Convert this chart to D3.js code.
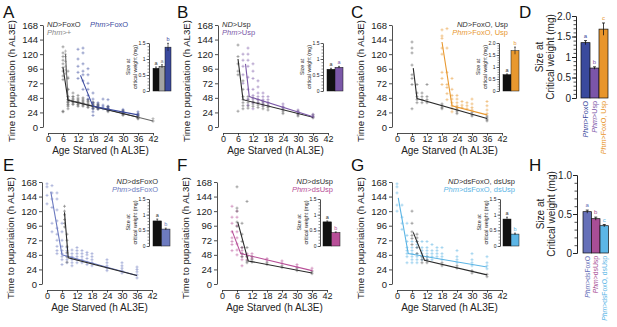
<!DOCTYPE html>
<html><head><meta charset="utf-8">
<script src="https://cdn.jsdelivr.net/npm/d3@7"></script>
<style>body{margin:0;background:#fff}svg{display:block}</style>
</head><body><svg id="fig"></svg><script>
// ---- shared ticks
const ageTicks=[0,6,12,18,24,30,36,42];
const timeTicks=[0,24,48,72,96,120,144,168];

// ---- A
const aNdAges=[6,8,10,12,14,16,18,20,24,30,36];
const aNdTimes=[[132,122,116,110,104,98,92,84,78,26,25],[92,80,62,50,45,42,40,37,34,30],[56,50,46,42,40,37],[52,46,42,40,37,34],[48,44,40,38,35],[45,42,38,35,32],[41,38,35,33,30],[38,35,32,30],[34,31,28,26],[27,24,22,20],[21,18,16,14]];
const aPlusAges=[7,8,10,12,14,16,18,20,24,30,36,42];
const aPlusTimes=[[125,120,116,108,100,94,88],[82,62,50,45,40,36],[50,46,42,38],[48,44,40,36],[46,42,38,34],[44,40,36,33],[40,37,34,31],[37,34,31,29],[33,30,27,25],[26,23,21,19],[20,17,15,13],[14,11,9]];
const aFoxAges=[12,14,16,18,20,22,24,30,36];
const aFoxTimes=[[128,112,100,90,80],[130,122,104,92,86,76,62],[96,86,72,62,52,46],[56,46,40,35,30,25,19],[40,36,33,30],[46,36,33,30],[45,34,31,28],[29,26,23],[25,22,19]];
const aNdLine=[[6,98],[8,44],[36,16]];
const aPlusLine=[[7,120],[8,45],[42,10]];
const aFoxLine=[[13,85],[18,34],[36,20]];
const aInsetVals=[0.71,0.77,1.37], aInsetErr=[0.04,0.05,0.12], aInsetLetters=['a','a','b'];

// ---- B
const bNdAges=[6,8,10,12,14,16,18,24,30,36];
const bNdTimes=[[135,116,104,92,86,26],[76,62,50,45,40,35,30],[50,45,40,35,31],[48,42,38,34],[45,40,36,32],[42,38,34,30],[40,35,32,28],[32,28,25,22],[26,22,20,18],[20,17,15]];
const bUspAges=[8,10,12,14,16,18,24,30,36];
const bUspTimes=[[120,110,100,86,72],[130,120,110,100,82,62,46,36],[104,92,80,62,52,46,40,30],[76,66,56,50,45,40],[56,50,45,40,36],[50,45,40,36],[38,34,30],[28,25,22],[21,18,16]];
const bNdLine=[[6,112],[8,45],[36,16]];
const bUspLine=[[9,104],[10.5,50],[36,17]];
const bInsetVals=[0.68,0.74], bInsetErr=[0.03,0.03], bInsetLetters=['a','a'];

// ---- C
const cNdAges=[6,8,10,12,18,24,30,36];
const cNdTimes=[[140,130,122,102,86,80,70,30],[70,56,50,45,40],[56,50,45,40],[70,50,45,40],[38,35,32,30],[32,28,25,22],[24,20,18],[18,15,12,10]];
const cFuAges=[18,20,22,24,26,28,30,36];
const cFuTimes=[[160,150,146,130,120,90,80,70],[162,130,90,70,65,55,45],[80,62,52,46,40,35,30,25],[52,46,40,35,30],[42,36,32],[40,35,30],[46,38,32,28],[42,35,28,22]];
const cNdLine=[[6.5,97],[8,47],[36,14]];
const cFuLine=[[18,140],[22,35],[36,20]];
const cInsetVals=[0.68,1.68], cInsetErr=[0.03,0.15], cInsetLetters=['a','b'];

// ---- D
const dCats=[['Phm','>FoxO'],['Phm','>Usp'],['Phm','>FoxO, Usp']];
const dVals=[1.35,0.73,1.68], dErr=[0.05,0.03,0.15], dLetters=['a','b','c'];

// ---- E
const eNdAges=[7,8];
const eNdTimes=[[128,120,114,106,100,94],[82,72,62,52,45,36]];
const eDsAges=[0,2,4,6,8,10,12,14,16,18,24,30,36];
const eDsTimes=[[165,160,146,132],[162,150,140,126,100,86],[150,140,122,104,92,82,72,62,55,50],[100,86,72,62,55,50,45,40,32],[60,55,50,45,40,35],[56,50,45,40,35,30],[60,55,50,45,40,35],[55,50,45,40,35],[52,48,42,36,32],[50,45,40,35,30],[40,35,30,26,22],[35,30,26,22,18],[28,24,20,15,10]];
const eDsLine=[[1.5,152],[6,48],[36,14]];
const eNdLine=[[7,118],[8.5,43],[36,14]];
const eInsetVals=[0.80,0.54], eInsetErr=[0.06,0.03], eInsetLetters=['a','b'];

// ---- F
const fNdAges=[6,8,10,12,18,24,30,36];
const fNdTimes=[[160,125,120,102,95],[100,82,70,60,50,45],[136,60,45,38,35],[45,40,36],[35,32],[30,27],[26,22],[20,17]];
const fDsAges=[4,6,8,10,12,18,24,30,36];
const fDsTimes=[[128,110,100,86,76,70,65,55],[120,110,96,86,76,66,56,48],[60,55,50,45,40,30],[50,45,40],[50,45,42],[42,38],[38,34],[32,28],[26,22]];
const fDsLine=[[4,88],[7.5,50],[36,22]];
const fNdLine=[[6.3,102],[10.5,38],[36,18]];
const fInsetVals=[0.77,0.43], fInsetErr=[0.03,0.02], fInsetLetters=['a','b'];

// ---- G
const gNdAges=[6,8,10,12,18,24,30,36];
const gNdTimes=[[120,100,86,80,75,65],[82,76,70,60,50],[45,40,35],[45,40,35],[35,30],[30,26],[22,18],[16,12]];
const gDsAges=[0,2,4,6,8,10,12,14,16,18,24,30,36];
const gDsTimes=[[165,160,150,130,120],[130,110,100,90],[100,80,70,60,55,50,45,35],[70,60,55,50,45,40,35],[70,65,60,50,45,40,35],[70,60,55,50,45,40],[70,60,55,50,45,40],[65,55,50,45,40],[60,55,50,45],[60,50,45,40],[55,45,40,35],[50,40,35,30],[45,35,30,25]];
const gDsLine=[[0.5,142],[4.5,50],[36,28]];
const gNdLine=[[6.5,85],[11,39],[36,15]];
const gInsetVals=[0.86,0.38], gInsetErr=[0.06,0.03], gInsetLetters=['a','b'];

// ---- H
const hCats=[['Phm','>dsFoxO'],['Phm','>dsUsp'],['Phm','>dsFoxO, dsUsp']];
const hVals=[0.53,0.44,0.35], hErr=[0.02,0.02,0.015], hLetters=['a','b','c'];

// ---- colours
const cNd='#2a2a2a', cGrey='#8e8e8e', cFox='#3b4a9e', cUsp='#7b58a8', cOra='#e8982f',
      cDsFox='#6d7bc0', cDsUsp='#b84f98', cDsBoth='#5cb5e5';

const FONT='"Liberation Sans", Arial, Helvetica, sans-serif';
const svg=d3.select('#fig').attr('width',617).attr('height',327)
  .attr('font-family',FONT);
svg.append('rect').attr('width',617).attr('height',327).attr('fill','#fff');

function label(text,x,y){
  svg.append('text').attr('x',x).attr('y',y).attr('font-size',17).attr('fill','#111').text(text);
}

function legend(x,y,parts,color,anchor){
  const t=svg.append('text').attr('x',x).attr('y',y).attr('font-size',7.5)
    .attr('fill',color).attr('text-anchor',anchor||'start');
  t.append('tspan').attr('font-style','italic').text(parts[0]);
  t.append('tspan').text(parts[1]);
}

function styleAxis(a,size){
  a.attr('font-family',FONT).attr('font-size',size);
  a.selectAll('path,line').attr('stroke','#222').attr('stroke-width',0.8);
  a.selectAll('text').attr('fill','#222');
}

function scatterPanel(o){
  const x=d3.scaleLinear().domain([0,42]).range([o.left,o.left+105]);
  const y=d3.scaleLinear().domain([0,168]).range([o.bottom,o.bottom-102]);
  const g=svg.append('g');
  const ya=g.append('g').attr('transform',`translate(${o.left-5},0)`)
    .call(d3.axisLeft(y).tickValues(timeTicks).tickSize(3).tickSizeOuter(0).tickPadding(2));
  const xa=g.append('g').attr('transform',`translate(0,${o.bottom+6})`)
    .call(d3.axisBottom(x).tickValues(ageTicks).tickSize(2.5).tickSizeOuter(0).tickPadding(0.5));
  styleAxis(ya,9.5); styleAxis(xa,9);
  g.append('text').attr('x',(x(0)+x(42))/2).attr('y',o.bottom+26.6)
    .attr('text-anchor','middle').attr('font-size',10).attr('fill','#222')
    .text('Age Starved (h AL3E)');
  g.append('text').attr('transform',`translate(${o.left-33},${o.bottom-46}) rotate(-90)`)
    .attr('text-anchor','middle').attr('font-size',9.6).attr('fill','#222')
    .text('Time to pupariation (h AL3E)');
  o.series.forEach(s=>{
    const pts=[];
    s.ages.forEach((a,i)=>s.times[i].forEach(t=>pts.push([a,t])));
    g.append('g').selectAll('path').data(pts).join('path')
      .attr('d',d=>`M${x(d[0])-1.5},${y(d[1])}h3M${x(d[0])},${y(d[1])-1.5}v3`)
      .attr('stroke',s.color).attr('stroke-width',0.7).attr('opacity',0.7);
  });
  const line=d3.line().x(d=>x(d[0])).y(d=>y(d[1]));
  o.series.forEach(s=>{
    g.append('path').datum(s.line).attr('d',line).attr('fill','none')
      .attr('stroke',s.lineColor||s.color).attr('stroke-width',1.1);
  });
}

function inset(o){
  const y=d3.scaleLinear().domain([0,o.max]).range([o.y0,o.y1]);
  const g=svg.append('g');
  const minor=d3.range(0,o.max+0.001,0.1);
  const a1=g.append('g').attr('transform',`translate(${o.ax},0)`)
    .call(d3.axisLeft(y).tickValues(minor).tickSize(1.5).tickSizeOuter(0).tickFormat(''));
  const a2=g.append('g').attr('transform',`translate(${o.ax},0)`)
    .call(d3.axisLeft(y).tickValues(o.ticks).tickSize(2.5).tickSizeOuter(0).tickPadding(1)
      .tickFormat((d,i)=>o.tickLabels[i]));
  styleAxis(a1,5); styleAxis(a2,5);
  a1.selectAll('path,line').attr('stroke-width',0.5);
  a2.selectAll('path,line').attr('stroke-width',0.6);
  const bx=d3.scaleBand().domain(d3.range(o.vals.length)).range([o.bx,o.bx+o.bw*o.vals.length]);
  g.selectAll('rect').data(o.vals).join('rect')
    .attr('x',(d,i)=>bx(i)).attr('width',bx.bandwidth())
    .attr('y',d=>y(d)).attr('height',d=>o.y0-y(d))
    .attr('fill',(d,i)=>o.colors[i]).attr('stroke','#111').attr('stroke-width',0.5);
  g.selectAll('path.err').data(o.vals).join('path').attr('class','err')
    .attr('d',(d,i)=>{const cx=bx(i)+bx.bandwidth()/2;
      return `M${cx},${y(d-o.errs[i])}V${y(d+o.errs[i])}M${cx-1},${y(d+o.errs[i])}h2`;})
    .attr('stroke','#111').attr('stroke-width',0.6).attr('fill','none');
  g.selectAll('text.lt').data(o.letters).join('text').attr('class','lt')
    .attr('x',(d,i)=>bx(i)+bx.bandwidth()/2)
    .attr('y',(d,i)=>y(o.vals[i]+o.errs[i])-2)
    .attr('text-anchor','middle').attr('font-size',5.5)
    .attr('fill',(d,i)=>o.letterColors[i]).text(d=>d);
  const cy=(o.y0+o.y1)/2;
  g.append('text').attr('transform',`translate(${o.ax-19},${cy}) rotate(-90)`)
    .attr('text-anchor','middle').attr('font-size',5.3).attr('fill','#222').text('Size at');
  g.append('text').attr('transform',`translate(${o.ax-12.5},${cy}) rotate(-90)`)
    .attr('text-anchor','middle').attr('font-size',5.3).attr('fill','#222').text('critical weight (mg)');
}

function bigBars(o){
  const y=d3.scaleLinear().domain([0,o.max]).range([o.y0,o.y1]);
  const g=svg.append('g');
  const minor=d3.range(0,o.max+0.001,0.1);
  const a1=g.append('g').attr('transform',`translate(${o.ax},0)`)
    .call(d3.axisLeft(y).tickValues(minor).tickSize(2.5).tickSizeOuter(0).tickFormat(''));
  const a2=g.append('g').attr('transform',`translate(${o.ax},0)`)
    .call(d3.axisLeft(y).tickValues(o.ticks).tickSize(4).tickSizeOuter(0).tickPadding(1)
      .tickFormat((d,i)=>o.tickLabels[i]));
  styleAxis(a1,10); styleAxis(a2,10);
  a2.selectAll('path,line').attr('stroke-width',1);
  const bx=d3.scaleBand().domain(d3.range(o.vals.length)).range([o.bx,o.bx+o.bw*o.vals.length]);
  g.selectAll('rect').data(o.vals).join('rect')
    .attr('x',(d,i)=>bx(i)).attr('width',bx.bandwidth())
    .attr('y',d=>y(d)).attr('height',d=>o.y0-y(d))
    .attr('fill',(d,i)=>o.colors[i]).attr('stroke','#111').attr('stroke-width',0.7);
  g.selectAll('path.err').data(o.vals).join('path').attr('class','err')
    .attr('d',(d,i)=>{const cx=bx(i)+bx.bandwidth()/2;
      return `M${cx},${y(d-o.errs[i])}V${y(d+o.errs[i])}M${cx-1.5},${y(d+o.errs[i])}h3`;})
    .attr('stroke','#111').attr('stroke-width',0.8).attr('fill','none');
  g.selectAll('text.lt').data(o.letters).join('text').attr('class','lt')
    .attr('x',(d,i)=>bx(i)+bx.bandwidth()/2)
    .attr('y',(d,i)=>y(o.vals[i]+o.errs[i])-3)
    .attr('text-anchor','middle').attr('font-size',6)
    .attr('fill',(d,i)=>o.colors[i]).text(d=>d);
  o.cats.forEach((c,i)=>{
    const t=g.append('text')
      .attr('transform',`translate(${bx(i)+bx.bandwidth()/2+2.5},${o.y0+3}) rotate(-90)`)
      .attr('text-anchor','end').attr('font-size',o.catSize).attr('fill',o.colors[i]);
    t.append('tspan').attr('font-style','italic').text(c[0]);
    t.append('tspan').text(c[1]);
  });
  const cy=(o.y0+o.y1)/2;
  g.append('text').attr('transform',`translate(${o.ax-33},${cy}) rotate(-90)`)
    .attr('text-anchor','middle').attr('font-size',10).attr('fill','#222').text('Size at');
  g.append('text').attr('transform',`translate(${o.ax-22},${cy}) rotate(-90)`)
    .attr('text-anchor','middle').attr('font-size',10).attr('fill','#222').text('Critical weight (mg)');
}

const ins15=[0,0.5,1,1.5], ins15L=['0','0.5','1','1.5'];
const ins20=[0,0.5,1,1.5,2], ins20L=['0','0.5','1','1.5','2.0'];

// ---- top row
scatterPanel({left:48,bottom:127,series:[
  {ages:aPlusAges,times:aPlusTimes,line:aPlusLine,color:cGrey,lineColor:'#666'},
  {ages:aNdAges,times:aNdTimes,line:aNdLine,color:'#555',lineColor:cNd},
  {ages:aFoxAges,times:aFoxTimes,line:aFoxLine,color:cFox}]});
scatterPanel({left:223,bottom:127,series:[
  {ages:bNdAges,times:bNdTimes,line:bNdLine,color:'#555',lineColor:cNd},
  {ages:bUspAges,times:bUspTimes,line:bUspLine,color:cUsp}]});
scatterPanel({left:397,bottom:127,series:[
  {ages:cNdAges,times:cNdTimes,line:cNdLine,color:'#555',lineColor:cNd},
  {ages:cFuAges,times:cFuTimes,line:cFuLine,color:cOra}]});
// ---- bottom row
scatterPanel({left:47,bottom:284,series:[
  {ages:eDsAges,times:eDsTimes,line:eDsLine,color:cDsFox},
  {ages:eNdAges,times:eNdTimes,line:eNdLine,color:'#555',lineColor:cNd}]});
scatterPanel({left:222,bottom:284,series:[
  {ages:fDsAges,times:fDsTimes,line:fDsLine,color:cDsUsp},
  {ages:fNdAges,times:fNdTimes,line:fNdLine,color:'#555',lineColor:cNd}]});
scatterPanel({left:397,bottom:284,series:[
  {ages:gDsAges,times:gDsTimes,line:gDsLine,color:cDsBoth},
  {ages:gNdAges,times:gNdTimes,line:gNdLine,color:'#555',lineColor:cNd}]});

// ---- insets
inset({ax:149,bx:153,bw:6,y0:91,y1:43,max:1.5,ticks:ins15,tickLabels:ins15L,
  vals:aInsetVals,errs:aInsetErr,letters:aInsetLetters,
  colors:['#111','#a3a3a3',cFox],letterColors:['#333','#888',cFox]});
inset({ax:323,bx:327,bw:8,y0:91,y1:43,max:1.5,ticks:ins15,tickLabels:ins15L,
  vals:bInsetVals,errs:bInsetErr,letters:bInsetLetters,
  colors:['#111',cUsp],letterColors:['#333',cUsp]});
inset({ax:499,bx:503,bw:8,y0:91,y1:43,max:2,ticks:ins20,tickLabels:ins20L,
  vals:cInsetVals,errs:cInsetErr,letters:cInsetLetters,
  colors:['#111',cOra],letterColors:['#333',cOra]});
inset({ax:149,bx:153,bw:8.5,y0:246,y1:199,max:1.5,ticks:ins15,tickLabels:ins15L,
  vals:eInsetVals,errs:eInsetErr,letters:eInsetLetters,
  colors:['#111',cDsFox],letterColors:['#333',cDsFox]});
inset({ax:320,bx:323,bw:8.5,y0:246,y1:199,max:1.5,ticks:ins15,tickLabels:ins15L,
  vals:fInsetVals,errs:fInsetErr,letters:fInsetLetters,
  colors:['#111',cDsUsp],letterColors:['#333',cDsUsp]});
inset({ax:500,bx:503,bw:8,y0:246,y1:199,max:1.5,ticks:ins15,tickLabels:ins15L,
  vals:gInsetVals,errs:gInsetErr,letters:gInsetLetters,
  colors:['#111',cDsBoth],letterColors:['#333',cDsBoth]});

// ---- D and H
bigBars({ax:576,bx:581,bw:9,y0:98,y1:16,max:2,ticks:ins20,tickLabels:ins20L,catSize:7.2,
  vals:dVals,errs:dErr,letters:dLetters,cats:dCats,colors:['#3a4a9d','#7b55a8','#e8952b']});
bigBars({ax:577,bx:583,bw:8.5,y0:253,y1:175,max:1,ticks:[0,0.5,1],tickLabels:['0','0.5','1.0'],catSize:6.8,
  vals:hVals,errs:hErr,letters:hLetters,cats:hCats,colors:['#6670b8','#a84e96','#5cb6e6']});

// ---- legends
legend(47,27,['ND','>FoxO'],'#333');
legend(90,27,['Phm','>FoxO'],cFox);
legend(47,35,['Phm','>+'],'#888');
legend(222,27,['ND','>Usp'],'#333');
legend(222,35,['Phm','>Usp'],cUsp);
legend(508,27,['ND','>FoxO, Usp'],'#333','end');
legend(508,35,['Phm','>FoxO, Usp'],cOra,'end');
legend(158,184,['ND','>dsFoxO'],'#333','end');
legend(158,192,['Phm','>dsFoxO'],cDsFox,'end');
legend(333,184,['ND','>dsUsp'],'#333','end');
legend(333,192,['Phm','>dsUsp'],cDsUsp,'end');
legend(515,184,['ND','>dsFoxO, dsUsp'],'#333','end');
legend(515,192,['Phm','>dsFoxO, dsUsp'],cDsBoth,'end');

// ---- panel letters
[['A',3,18],['B',177,18],['C',351,18],['D',519,18],
 ['E',3,171],['F',177,171],['G',351,171],['H',529,171]].forEach(d=>label(d[0],d[1],d[2]));
</script></body></html>
